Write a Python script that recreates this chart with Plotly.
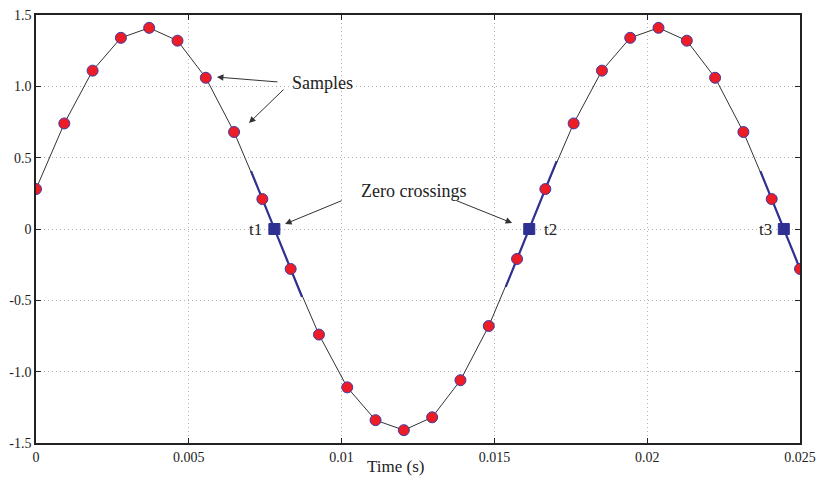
import plotly.graph_objects as go

t_samples = [0.0, 0.000926, 0.001852, 0.002778, 0.003704, 0.00463, 0.005556,
             0.006481, 0.007407, 0.008333, 0.009259, 0.010185, 0.011111, 0.012037,
             0.012963, 0.013889, 0.014815, 0.015741, 0.016667, 0.017593, 0.018519,
             0.019444, 0.02037, 0.021296, 0.022222, 0.023148, 0.024074, 0.025]
v_samples = [0.28, 0.74, 1.11, 1.34, 1.41, 1.32, 1.06, 0.68, 0.21, -0.28,
             -0.74, -1.11, -1.34, -1.41, -1.32, -1.06, -0.68, -0.21, 0.28, 0.74,
             1.11, 1.34, 1.41, 1.32, 1.06, 0.68, 0.21, -0.28]

# Zero crossings
t_cross = [0.0078, 0.01614, 0.02447]
v_cross = [0, 0, 0]
cross_labels = ["t1", "t2", "t3"]
# index of the sample just before each crossing
cross_idx = [8, 17, 26]

x_ticks = [0, 0.005, 0.01, 0.015, 0.02, 0.025]
x_ticklabels = ["0", "0.005", "0.01", "0.015", "0.02", "0.025"]
y_ticks = [1.5, 1.0, 0.5, 0, -0.5, -1.0, -1.5]
y_ticklabels = ["1.5", "1.0", "0.5", "0", "-0.5", "-1.0", "-1.5"]

FONT = "Liberation Serif"
TXT = "#222222"

fig = go.Figure()

fig.add_trace(go.Scatter(x=t_samples, y=v_samples, mode="lines",
                         line=dict(color="#333333", width=1), hoverinfo="skip"))

# blue interpolation segments through the two samples around each crossing
ext = 0.4
for i in cross_idx:
    x0, x1 = t_samples[i], t_samples[i + 1]
    y0, y1 = v_samples[i], v_samples[i + 1]
    dx = x1 - x0
    dy = y1 - y0
    xs = [x0 - ext * dx, x1 + ext * dx]
    ys = [y0 - ext * dy, y1 + ext * dy]
    fig.add_trace(go.Scatter(x=xs, y=ys, mode="lines",
                             line=dict(color="#2e3192", width=2.2), hoverinfo="skip"))

fig.add_trace(go.Scatter(x=t_samples, y=v_samples, mode="markers",
                         marker=dict(symbol="circle", size=11, color="#ee1c24",
                                     line=dict(color="#3b3ba8", width=1))))

fig.add_trace(go.Scatter(x=t_cross, y=v_cross, mode="markers",
                         marker=dict(symbol="square", size=11, color="#2e3192",
                                     line=dict(color="#2e3192", width=1))))

ann = []
# labels t1, t2, t3
label_x = [0.00717, 0.01682, 0.023855]
for lx, lab in zip(label_x, cross_labels):
    ann.append(dict(x=lx, y=0, text=lab, showarrow=False,
                    font=dict(family=FONT, size=17, color=TXT)))

ann.append(dict(x=0.00936, y=1.023, text="Samples", showarrow=False,
                font=dict(family=FONT, size=18, color=TXT)))
ann.append(dict(x=0.01234, y=0.265, text="Zero crossings", showarrow=False,
                font=dict(family=FONT, size=18, color=TXT)))

arrows = [
    (0.00592, 1.065, 0.00795, 1.03),
    (0.00697, 0.743, 0.00815, 0.988),
    (0.00815, 0.035, 0.01005, 0.203),
    (0.01558, 0.042, 0.01371, 0.203),
]
for hx, hy, tx, ty in arrows:
    ann.append(dict(x=hx, y=hy, ax=tx, ay=ty, axref="x", ayref="y",
                    xref="x", yref="y", text="", showarrow=True,
                    arrowhead=2, arrowsize=1.3, arrowwidth=1, arrowcolor="#333333"))

ann.append(dict(x=0.01177, y=-0.054, xref="x", yref="paper", text="Time (s)",
                showarrow=False, yanchor="middle",
                font=dict(family=FONT, size=17, color=TXT)))

fig.update_layout(
    width=819, height=477,
    margin=dict(l=36, r=19, t=15, b=34),
    paper_bgcolor="white", plot_bgcolor="white",
    showlegend=False,
    annotations=ann,
    font=dict(family=FONT, size=14, color=TXT),
)
axis_style = dict(showgrid=True, gridcolor="#b0b0b0", griddash="1px,3px", gridwidth=1,
                  zeroline=False, showline=True, linecolor="#222222", linewidth=1.5,
                  mirror="ticks", ticks="inside", ticklen=5, tickcolor="#222222",
                  automargin=False, ticklabeloverflow="allow",
                  tickfont=dict(family=FONT, size=14, color=TXT))
fig.update_xaxes(range=[0, 0.025], tickvals=x_ticks, ticktext=x_ticklabels, **axis_style)
fig.update_yaxes(range=[-1.5, 1.5], tickvals=y_ticks, ticktext=y_ticklabels,
                 ticklabelstandoff=0, **axis_style)

fig.write_html("out.html", config={"displayModeBar": False},
               post_script="document.body.style.margin='0';document.body.style.overflow='hidden';")
